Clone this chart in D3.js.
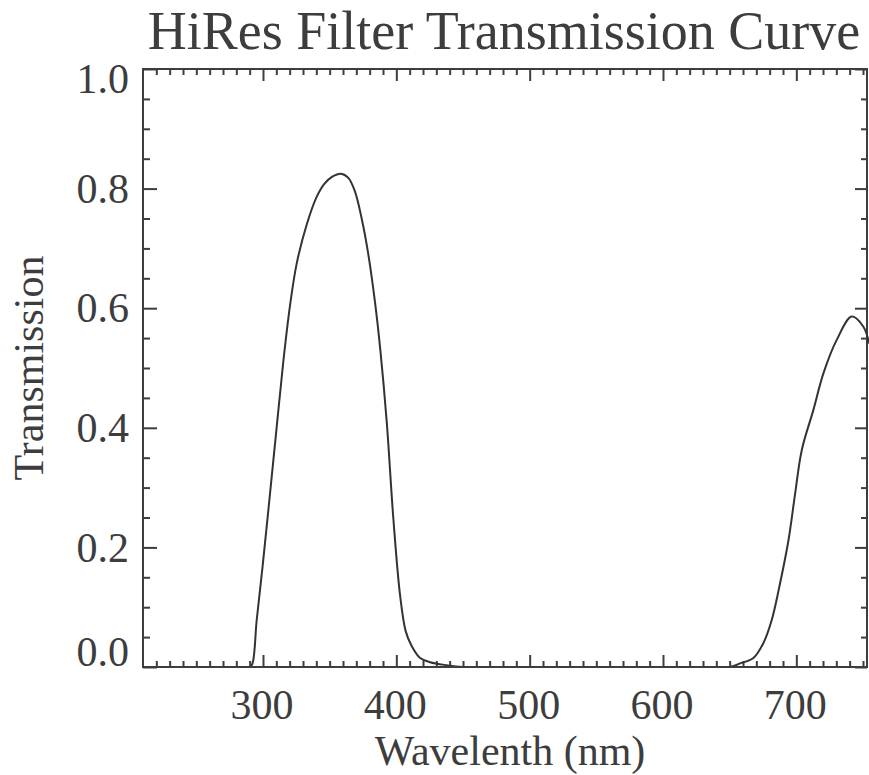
<!DOCTYPE html>
<html>
<head>
<meta charset="utf-8">
<script src="https://cdn.jsdelivr.net/npm/d3@7/dist/d3.min.js"></script>
<style>
  html, body { margin: 0; padding: 0; background: #fff; }
  svg { display: block; }
</style>
</head>
<body>
<svg id="chart" width="869" height="775"></svg>
<script>
// Filter transmission samples (wavelength in nm, fractional transmission)
const wavelength = [210, 290, 292, 295.3, 300.2, 305.3, 310.3, 315.2, 320.3, 325.3, 332.8, 340, 346, 352, 358.5,
  364, 369, 374, 379, 384, 388, 392.8, 397.7, 402.8, 407, 411.5, 417.8, 425.3, 437.8, 450,
  650, 657.8, 667.8, 675.3, 681.6, 687.8, 694.1, 699.1, 704.1, 712.8, 720.3, 730.3, 741.6, 750.3, 754.6];
const transmission = [0, 0, 0.005, 0.079, 0.179, 0.291, 0.402, 0.51, 0.605, 0.675, 0.74, 0.785, 0.808, 0.82, 0.825,
  0.818, 0.795, 0.75, 0.69, 0.61, 0.53, 0.41, 0.25, 0.12, 0.06, 0.035, 0.015, 0.008, 0.003, 0,
  0, 0.006, 0.015, 0.04, 0.079, 0.14, 0.212, 0.29, 0.363, 0.43, 0.491, 0.547, 0.586, 0.569, 0.541];

const xMajorTicks = [300, 400, 500, 600, 700];
const xMinorTicks = d3.range(220, 751, 10).filter(v => v % 100 !== 0);
const yMajorTicks = [0.0, 0.2, 0.4, 0.6, 0.8, 1.0];
const yMinorTicks = [0.05, 0.1, 0.15, 0.25, 0.3, 0.35, 0.45, 0.5, 0.55, 0.65, 0.7, 0.75, 0.85, 0.9, 0.95];

const titleText = "HiRes Filter Transmission Curve";
const xTitle = "Wavelenth (nm)";
const yTitle = "Transmission";

const ink = "#3d3d3d";
const font = "'Liberation Serif', 'Times New Roman', serif";

const plot = { left: 143, right: 867, top: 69, bottom: 667 };

const svg = d3.select("#chart");

const x = d3.scaleLinear().domain([210, 753]).range([plot.left, plot.right]);
const y = d3.scaleLinear().domain([0, 1]).range([plot.bottom, plot.top]);

// Clip the curve to the plotting box
svg.append("defs").append("clipPath").attr("id", "plot-clip")
  .append("rect")
  .attr("x", plot.left).attr("y", plot.top - 2)
  .attr("width", plot.right - plot.left + 2).attr("height", plot.bottom - plot.top + 1);

// Ticks on all four sides, pointing inward
function drawTicks(axisFn, scale, values, size, transform) {
  const g = svg.append("g")
    .attr("transform", transform)
    .call(axisFn(scale).tickValues(values).tickSize(size).tickSizeOuter(0).tickFormat(""));
  g.select(".domain").remove();
  g.selectAll(".tick line").attr("stroke", ink).attr("stroke-width", 2);
  return g;
}

drawTicks(d3.axisBottom, x, xMajorTicks, -12, `translate(0,${plot.bottom})`);
drawTicks(d3.axisBottom, x, xMinorTicks, -6, `translate(0,${plot.bottom})`);
drawTicks(d3.axisTop, x, xMajorTicks, -12, `translate(0,${plot.top})`);
drawTicks(d3.axisTop, x, xMinorTicks, -6, `translate(0,${plot.top})`);
drawTicks(d3.axisLeft, y, yMajorTicks, -14, `translate(${plot.left},0)`);
drawTicks(d3.axisLeft, y, yMinorTicks, -7, `translate(${plot.left},0)`);
drawTicks(d3.axisRight, y, yMajorTicks, -12, `translate(${plot.right},0)`);
drawTicks(d3.axisRight, y, yMinorTicks, -6, `translate(${plot.right},0)`);

// Frame
svg.append("rect")
  .attr("x", plot.left).attr("y", plot.top)
  .attr("width", plot.right - plot.left).attr("height", plot.bottom - plot.top)
  .attr("fill", "none").attr("stroke", ink).attr("stroke-width", 2);

// Transmission curve
const pts = wavelength.map((w, i) => [w, transmission[i]]);
const line = d3.line()
  .x(d => x(d[0]))
  .y(d => y(d[1]))
  .curve(d3.curveCatmullRom.alpha(0.5));

svg.append("path")
  .datum(pts)
  .attr("clip-path", "url(#plot-clip)")
  .attr("d", line)
  .attr("fill", "none")
  .attr("stroke", "#333")
  .attr("stroke-width", 2)
  .attr("stroke-linejoin", "round");

// Tick labels
svg.append("g").selectAll("text")
  .data(xMajorTicks)
  .join("text")
  .attr("x", d => x(d) - 1)
  .attr("y", 719)
  .attr("text-anchor", "middle")
  .attr("font-family", font)
  .attr("font-size", 42)
  .attr("fill", ink)
  .text(d => d);

svg.append("g").selectAll("text")
  .data(yMajorTicks)
  .join("text")
  .attr("x", 129)
  .attr("y", d => Math.min(Math.max(y(d), plot.top + 10), plot.bottom - 15))
  .attr("dy", "0.34em")
  .attr("text-anchor", "end")
  .attr("font-family", font)
  .attr("font-size", 42)
  .attr("fill", ink)
  .text(d => d.toFixed(1));

// Titles
svg.append("text")
  .attr("x", 504)
  .attr("y", 49)
  .attr("text-anchor", "middle")
  .attr("font-family", font)
  .attr("font-size", 54)
  .attr("fill", ink)
  .text(titleText);

svg.append("text")
  .attr("x", 510)
  .attr("y", 765)
  .attr("text-anchor", "middle")
  .attr("font-family", font)
  .attr("font-size", 42)
  .attr("fill", ink)
  .text(xTitle);

svg.append("text")
  .attr("transform", "translate(43,368) rotate(-90)")
  .attr("text-anchor", "middle")
  .attr("font-family", font)
  .attr("font-size", 42)
  .attr("fill", ink)
  .text(yTitle);
</script>
</body>
</html>
